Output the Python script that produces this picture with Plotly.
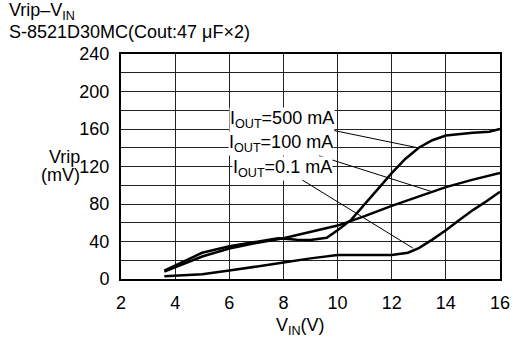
import plotly.graph_objects as go

# Vrip vs VIN, S-8521D30MC
vin_500 = [3.6, 4.2, 5.0, 6.0, 7.0, 7.8, 8.5, 9.0, 9.6, 10.0, 10.5, 11.0, 11.5, 12.0, 12.5, 13.0, 13.5, 14.0, 15.0, 15.6, 16.0]
vrip_500 = [9, 17, 28, 35, 40, 43.5, 42, 41.5, 44, 52, 63, 80, 97, 113, 128, 140, 148, 153, 156, 157, 160]

vin_100 = [3.6, 5.0, 6.0, 7.0, 8.0, 9.0, 10.0, 10.5, 11.0, 12.0, 13.0, 14.0, 15.0, 16.0]
vrip_100 = [8, 24, 32.5, 38.5, 43.5, 50, 57, 62, 67, 78, 88, 98, 106, 113]

vin_01 = [3.6, 4.3, 5.0, 6.0, 7.0, 8.0, 9.0, 10.0, 11.0, 12.0, 12.6, 13.0, 13.5, 14.0, 14.5, 15.0, 15.5, 16.0]
vrip_01 = [3, 4, 5, 9, 13, 17.5, 22, 25.5, 25.5, 25.5, 28, 33, 42, 52, 63, 73.5, 83, 93]

labels = ['I<sub>OUT</sub>=500 mA', 'I<sub>OUT</sub>=100 mA', 'I<sub>OUT</sub>=0.1 mA']
label_tips = [(12.96, 140), (13.5, 93), (12.78, 33)]
label_offsets = [(-136, -28), (-151, -48), (-130, -80)]

FONT = 'Arial, Liberation Sans, sans-serif'

fig = go.Figure()
for xs, ys in [(vin_500, vrip_500), (vin_100, vrip_100), (vin_01, vrip_01)]:
    fig.add_trace(go.Scatter(x=xs, y=ys, mode='lines',
                             line=dict(color='black', width=2.5),
                             showlegend=False))

for text, (tx, ty), (ax, ay) in zip(labels, label_tips, label_offsets):
    fig.add_annotation(x=tx, y=ty, text=text, showarrow=True, arrowhead=0,
                       arrowwidth=1, arrowcolor='black', ax=ax, ay=ay,
                       bgcolor='white', borderpad=0, standoff=0,
                       font=dict(size=18, color='black'))

# titles and axis labels
def paper_text(text, x, y, xanchor='left'):
    fig.add_annotation(xref='paper', yref='paper', x=x, y=y, xanchor=xanchor,
                       yanchor='middle', text=text, showarrow=False,
                       font=dict(size=18))

paper_text('Vrip–V<sub>IN</sub>', -0.301, 1.187)
paper_text('S-8521D30MC(Cout:47 μF×2)', -0.301, 1.098)
paper_text('Vrip', -0.103, 0.543, 'right')
paper_text('(mV)', -0.103, 0.463, 'right')
paper_text('V<sub>IN</sub>(V)', 0.474, -0.213, 'center')

fig.update_layout(
    width=522, height=347,
    margin=dict(l=121, r=22, t=54, b=68),
    plot_bgcolor='white', paper_bgcolor='white',
    font=dict(family=FONT, size=18, color='black'),
)
fig.update_xaxes(range=[2, 16], dtick=2, showgrid=True, gridcolor='#222', gridwidth=1,
                 showline=True, linecolor='black', linewidth=2, mirror=True,
                 zeroline=False, ticks='', ticklabelstandoff=6)
fig.update_yaxes(range=[0, 240], tickvals=[0, 40, 80, 120, 160, 200, 240],
                 showgrid=True, gridcolor='#222', gridwidth=1,
                 minor=dict(dtick=20, showgrid=True, gridcolor='#222', gridwidth=1),
                 showline=True, linecolor='black', linewidth=2, mirror=True,
                 zeroline=False, ticks='', ticklabelstandoff=6)

fig.write_html('out.html', config={'displayModeBar': False},
               post_script="document.body.style.margin='0px';")
